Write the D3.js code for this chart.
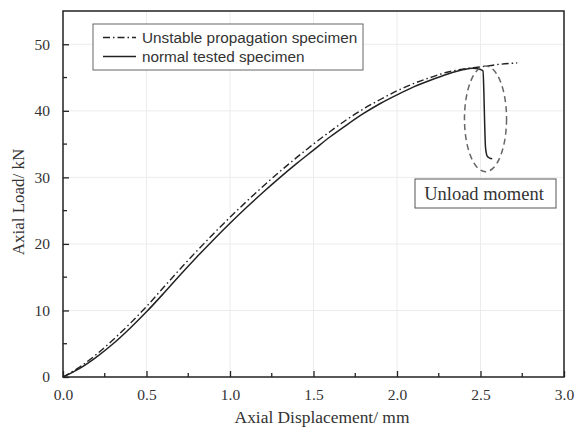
<!DOCTYPE html>
<html>
<head>
<meta charset="utf-8">
<script src="https://cdn.jsdelivr.net/npm/d3@7"></script>
<style>
  body { margin: 0; background: #fff; }
  svg { display: block; }
</style>
</head>
<body>
<svg id="chart" width="575" height="429"></svg>
<script>
// ---- data ----
const unstableX = [0, 0.1, 0.2, 0.3, 0.4, 0.5, 0.6, 0.7, 0.8, 0.9, 1.0, 1.1, 1.2, 1.3, 1.4, 1.5, 1.6, 1.7, 1.8, 1.9, 2.0, 2.1, 2.2, 2.3, 2.4, 2.5, 2.6, 2.72];
const unstableY = [0, 1.5, 3.4, 5.6, 8.0, 10.6, 13.4, 16.2, 18.9, 21.5, 24.0, 26.4, 28.7, 30.9, 33.0, 35.0, 36.9, 38.7, 40.3, 41.7, 43.0, 44.1, 45.0, 45.8, 46.3, 46.6, 46.95, 47.2];
const normalX = [0, 0.1, 0.2, 0.3, 0.4, 0.5, 0.6, 0.7, 0.8, 0.9, 1.0, 1.1, 1.2, 1.3, 1.4, 1.5, 1.6, 1.7, 1.8, 1.9, 2.0, 2.1, 2.2, 2.3, 2.4, 2.45, 2.5, 2.515, 2.52, 2.525, 2.53, 2.54, 2.555, 2.57];
const normalY = [0, 1.3, 3.0, 5.0, 7.3, 9.8, 12.5, 15.3, 18.0, 20.6, 23.1, 25.5, 27.8, 30.0, 32.1, 34.1, 36.1, 37.9, 39.6, 41.1, 42.4, 43.6, 44.6, 45.5, 46.2, 46.4, 46.2, 46.0, 43.0, 38.0, 34.5, 33.2, 32.9, 32.8];
const seriesNames = ["Unstable propagation specimen", "normal tested specimen"];
const xTicks = [0, 0.5, 1.0, 1.5, 2.0, 2.5, 3.0];
const yTicks = [0, 10, 20, 30, 40, 50];
const xMinor = [0.25, 0.75, 1.25, 1.75, 2.25, 2.75];
const yMinor = [5, 15, 25, 35, 45];
const ellipseCenter = [2.53, 38.8];
const ellipseRadii = [0.126, 7.95];
const annotationText = "Unload moment";
const xLabel = "Axial Displacement/ mm";
const yLabel = "Axial Load/ kN";

// ---- layout ----
const L = 63, R = 564, T = 11, B = 377;
const svg = d3.select("#chart");
const x = d3.scaleLinear().domain([0, 3]).range([L, R]);
const y = d3.scaleLinear().domain([0, 55]).range([B, T]);

// grid
svg.append("g").selectAll("line.gx").data(xTicks.slice(1, -1)).join("line")
  .attr("x1", d => x(d)).attr("x2", d => x(d)).attr("y1", T).attr("y2", B)
  .attr("stroke", "#ececec").attr("stroke-width", 1);
svg.append("g").selectAll("line.gy").data(yTicks.slice(1)).join("line")
  .attr("x1", L).attr("x2", R).attr("y1", d => y(d)).attr("y2", d => y(d))
  .attr("stroke", "#ececec").attr("stroke-width", 1);

// axes (inward ticks)
const serif = "'Liberation Serif', 'Times New Roman', serif";
const xAxis = d3.axisBottom(x).tickValues(xTicks).tickFormat(d3.format(".1f")).tickSizeInner(-6).tickSizeOuter(0).tickPadding(12);
const gx = svg.append("g").attr("transform", `translate(0,${B})`).call(xAxis);
const yAxis = d3.axisLeft(y).tickValues(yTicks).tickFormat(d3.format("d")).tickSizeInner(-6).tickSizeOuter(0).tickPadding(13);
const gy = svg.append("g").attr("transform", `translate(${L},0)`).call(yAxis);
[gx, gy].forEach(g => {
  g.select(".domain").remove();
  g.selectAll(".tick line").attr("stroke", "#222").attr("stroke-width", 1.3);
  g.selectAll(".tick text").attr("font-family", serif).attr("font-size", 15.5).attr("fill", "#333");
});
gx.selectAll(".tick text").attr("dy", "0.71em");
// minor ticks
svg.append("g").selectAll("line").data(xMinor).join("line")
  .attr("x1", d => x(d)).attr("x2", d => x(d)).attr("y1", B).attr("y2", B - 4)
  .attr("stroke", "#222").attr("stroke-width", 1.3);
svg.append("g").selectAll("line").data(yMinor).join("line")
  .attr("x1", L).attr("x2", L + 4).attr("y1", d => y(d)).attr("y2", d => y(d))
  .attr("stroke", "#222").attr("stroke-width", 1.3);

// frame
svg.append("rect").attr("x", L).attr("y", T).attr("width", R - L).attr("height", B - T)
  .attr("fill", "none").attr("stroke", "#222").attr("stroke-width", 1.5);

// curves
const line = d3.line().x(d => x(d[0])).y(d => y(d[1])).curve(d3.curveMonotoneX);
const unstable = unstableX.map((v, i) => [v, unstableY[i]]);
const normal = normalX.map((v, i) => [v, normalY[i]]);
svg.append("path").datum(unstable).attr("d", line).attr("fill", "none")
  .attr("stroke", "#222").attr("stroke-width", 1.4).attr("stroke-dasharray", "7,3,1.5,3");
svg.append("path").datum(normal).attr("d", line).attr("fill", "none")
  .attr("stroke", "#222").attr("stroke-width", 1.5);

// ellipse annotation
svg.append("ellipse")
  .attr("cx", x(ellipseCenter[0])).attr("cy", y(ellipseCenter[1]))
  .attr("rx", x(ellipseRadii[0]) - x(0)).attr("ry", y(0) - y(ellipseRadii[1]))
  .attr("fill", "none").attr("stroke", "#666").attr("stroke-width", 1.5)
  .attr("stroke-dasharray", "6,4");

// annotation box
svg.append("rect").attr("x", 415).attr("y", 179).attr("width", 141).attr("height", 29)
  .attr("fill", "#fff").attr("stroke", "#555").attr("stroke-width", 1);
svg.append("text").attr("x", 484).attr("y", 200).attr("text-anchor", "middle")
  .attr("font-family", serif).attr("font-size", 18.5).attr("fill", "#333").text(annotationText);

// legend
svg.append("rect").attr("x", 93).attr("y", 24).attr("width", 270).attr("height", 46)
  .attr("fill", "#fff").attr("stroke", "#666").attr("stroke-width", 1);
const sans = "'Liberation Sans', Arial, sans-serif";
const leg = [{dash: "7,3,1.5,3", yy: 37.5, ty: 42.7}, {dash: null, yy: 56.5, ty: 61.7}];
leg.forEach((l, i) => {
  const ln = svg.append("line").attr("x1", 103).attr("x2", 136).attr("y1", l.yy).attr("y2", l.yy)
    .attr("stroke", "#222").attr("stroke-width", 1.4);
  if (l.dash) ln.attr("stroke-dasharray", l.dash);
  svg.append("text").attr("x", 142).attr("y", l.ty).attr("font-family", sans)
    .attr("font-size", 15.3).attr("fill", "#333").text(seriesNames[i]);
});

// axis labels
svg.append("text").attr("x", 322).attr("y", 423).attr("text-anchor", "middle")
  .attr("font-family", serif).attr("font-size", 17.4).attr("fill", "#333").text(xLabel);
svg.append("text").attr("transform", `translate(24,202) rotate(-90)`)
  .attr("text-anchor", "middle").attr("font-family", serif).attr("font-size", 17)
  .attr("fill", "#333").text(yLabel);
</script>
</body>
</html>
